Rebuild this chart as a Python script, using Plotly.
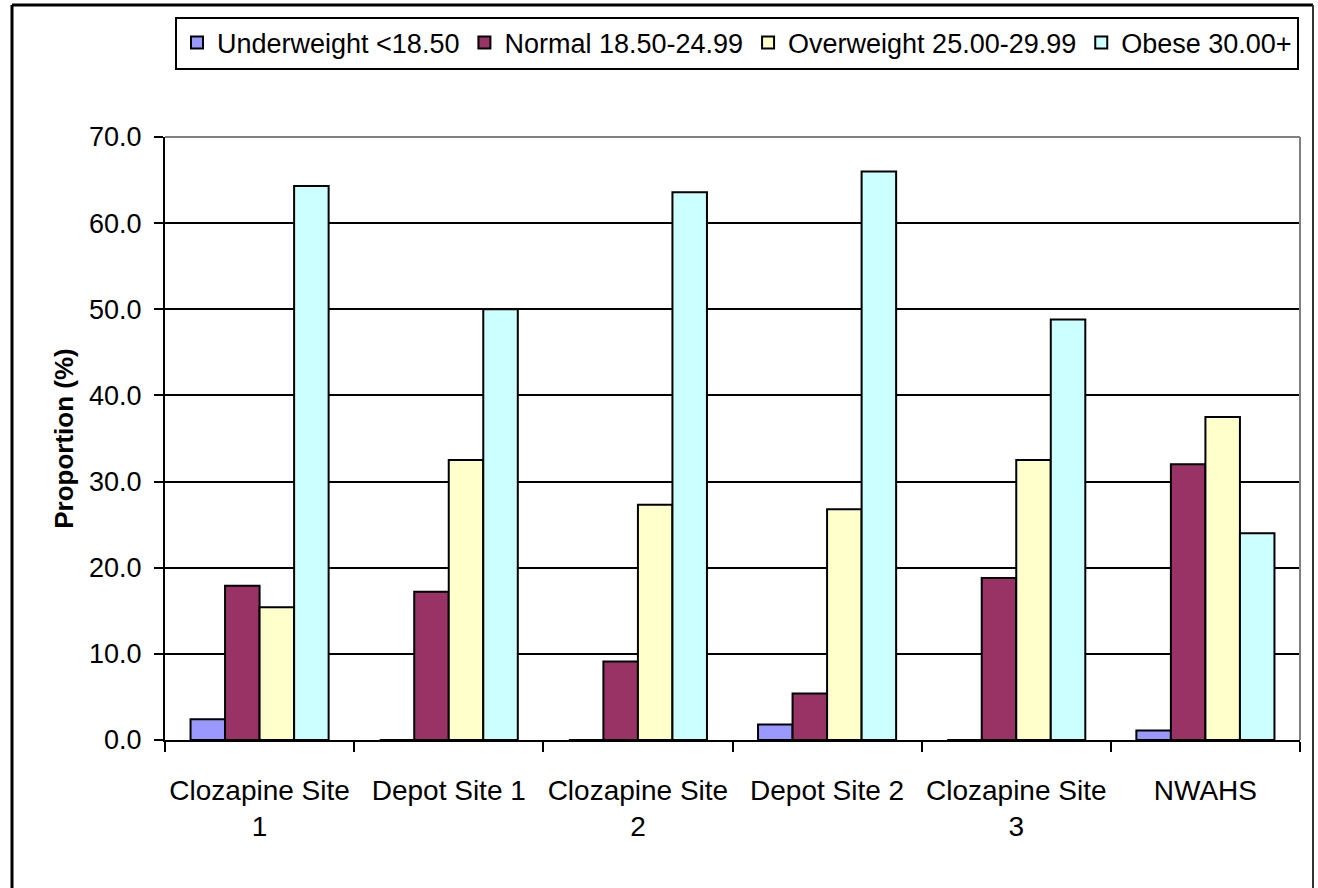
import plotly.graph_objects as go

categories = ["Clozapine Site<br>1", "Depot Site 1", "Clozapine Site<br>2",
              "Depot Site 2", "Clozapine Site<br>3", "NWAHS"]
series_names = ["Underweight <18.50", "Normal 18.50-24.99",
                "Overweight 25.00-29.99", "Obese 30.00+"]
underweight = [2.4, 0.0, 0.0, 1.8, 0.0, 1.1]
normal = [17.9, 17.2, 9.1, 5.4, 18.8, 32.0]
overweight = [15.4, 32.5, 27.3, 26.8, 32.5, 37.5]
obese = [64.3, 50.0, 63.6, 66.0, 48.8, 24.0]
colors = ["#9999FF", "#993366", "#FFFFCC", "#CCFFFF"]
y_ticks = [0, 10, 20, 30, 40, 50, 60, 70]

FONT = "Liberation Sans, Arial, sans-serif"

# plot area in pixels
L, R, T, B = 165, 1300, 137, 740
W, H = 1318, 888
pw, ph = R - L, B - T

def px(x):
    return (x - L) / pw

def py(y):
    return (B - y) / ph

fig = go.Figure()
for name, vals, col in zip(series_names, [underweight, normal, overweight, obese], colors):
    fig.add_trace(go.Bar(
        name=name, x=categories, y=vals,
        marker=dict(color=col, line=dict(color="black", width=2)),
    ))

fig.update_layout(
    width=W, height=H,
    margin=dict(l=L, r=W - R, t=T, b=H - B, autoexpand=False),
    paper_bgcolor="white", plot_bgcolor="white",
    barmode="group", bargap=0.27, bargroupgap=0,
    font=dict(family=FONT, color="black", size=27),
    legend=dict(
        orientation="h", x=px(175), xanchor="left", y=py(43), yanchor="middle",
        bordercolor="black", borderwidth=2, bgcolor="white",
        font=dict(family=FONT, size=27, color="black"),
        traceorder="normal",
    ),
    xaxis=dict(
        showline=True, linecolor="black", linewidth=2,
        ticks="outside", ticklen=10, tickwidth=2, tickcolor="black",
        tickson="boundaries", showgrid=False, tickangle=0, automargin=False,
        tickfont=dict(family=FONT, size=28, color="black"),
        ticklabelstandoff=24,
    ),
    yaxis=dict(
        range=[0, 70], tickvals=y_ticks, tickformat=".1f", automargin=False,
        showline=True, linecolor="black", linewidth=2,
        ticks="outside", ticklen=9, tickwidth=2, tickcolor="black",
        showgrid=True, gridcolor="black", gridwidth=2,
        zeroline=False,
        tickfont=dict(family=FONT, size=27, color="black"),
        ticklabelstandoff=7,
        title=dict(text="<b>Proportion (%)</b>", standoff=8,
                   font=dict(family=FONT, size=26, color="black")),
    ),
    shapes=[
        # plot-area border (gray) top and right
        dict(type="line", xref="paper", yref="paper", x0=0, x1=1, y0=1, y1=1,
             line=dict(color="#808080", width=2), layer="above"),
        dict(type="line", xref="paper", yref="paper", x0=1, x1=1, y0=0, y1=1,
             line=dict(color="#808080", width=2), layer="above"),
        # outer chart frame
        dict(type="line", xref="paper", yref="paper", x0=px(12), x1=px(1313),
             y0=py(5), y1=py(5), line=dict(color="black", width=3)),
        dict(type="line", xref="paper", yref="paper", x0=px(12), x1=px(12),
             y0=py(5), y1=py(900), line=dict(color="black", width=3)),
        dict(type="line", xref="paper", yref="paper", x0=px(1313), x1=px(1313),
             y0=py(5), y1=py(900), line=dict(color="#333333", width=2)),
    ],
)

fig.write_html("out.html", config={"displayModeBar": False},
               post_script="document.body.style.margin='0';")
